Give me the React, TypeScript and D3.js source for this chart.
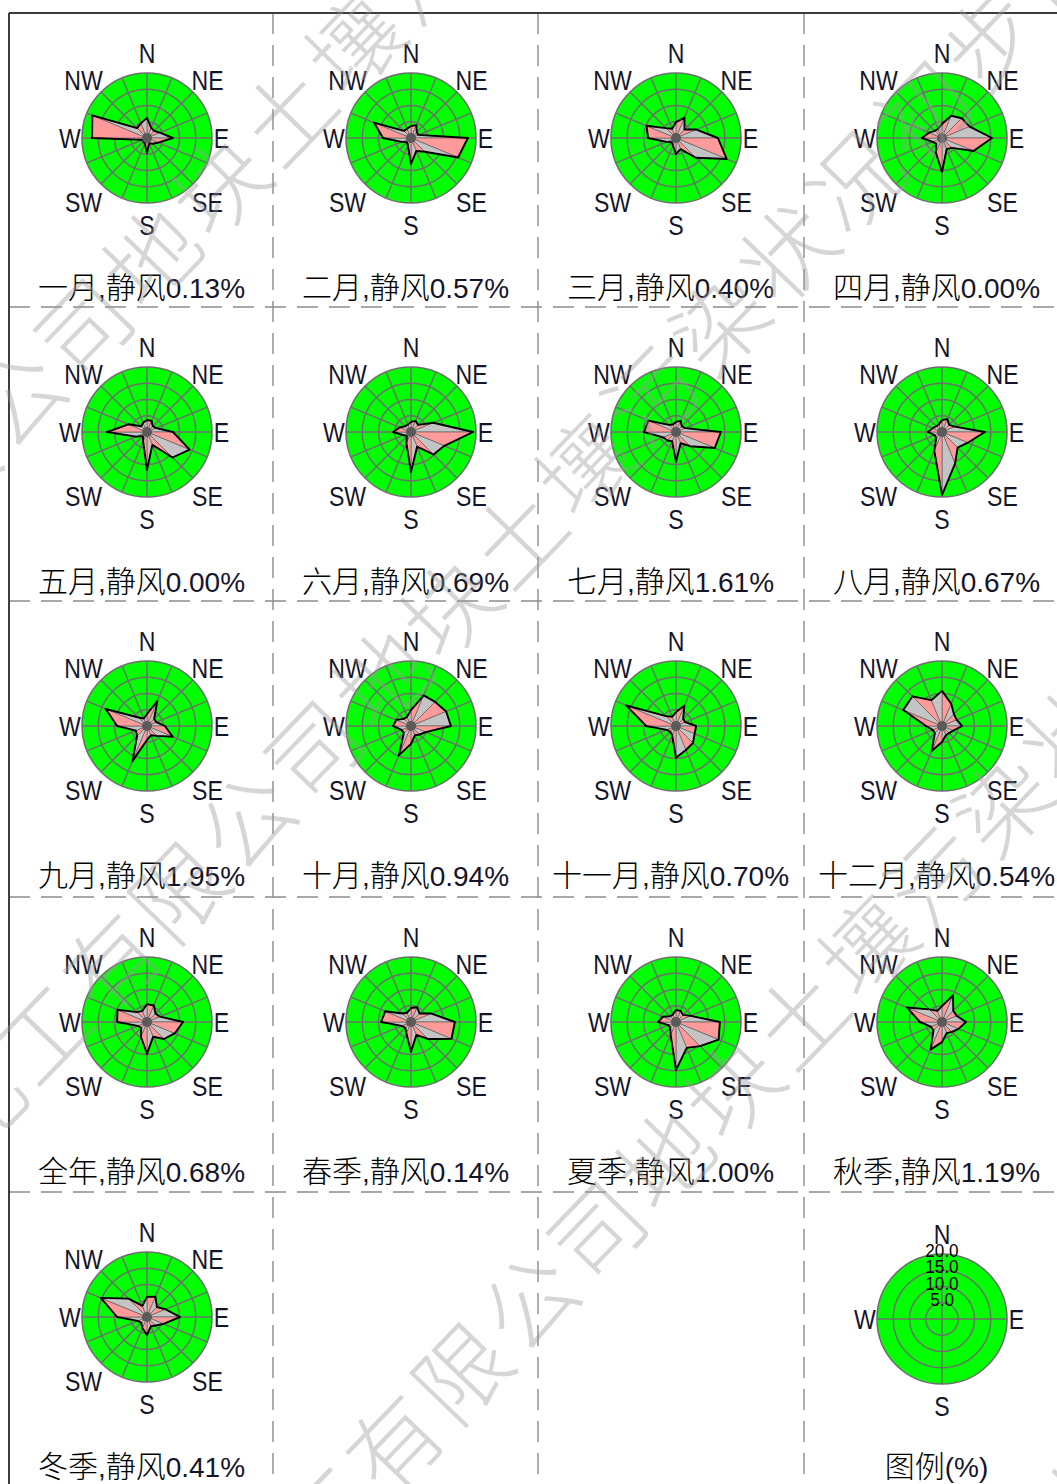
import React from "react";
import * as d3 from "d3";

// ---------- data ----------
const directions = ["N", "NNE", "NE", "ENE", "E", "ESE", "SE", "SSE", "S", "SSW", "SW", "WSW", "W", "WNW", "NW", "NNW"];
const compassLabels = ["N", "NE", "E", "SE", "S", "SW", "W", "NW"];
const legendCompass = ["N", "E", "S", "W"];

const periodNames = ["一月", "二月", "三月", "四月", "五月", "六月", "七月", "八月", "九月", "十月", "十一月", "十二月", "全年", "春季", "夏季", "秋季", "冬季"];
const calmPct = [0.13, 0.57, 0.4, 0.0, 0.0, 0.69, 1.61, 0.67, 1.95, 0.94, 0.7, 0.54, 0.68, 0.14, 1.0, 1.19, 0.41];

// frequencies (%) in order N, NNE, NE, ... NNW
const freqJan = [6.2, 3.4, 3.1, 4.3, 8.0, 3.7, 2.5, 1.8, 4.6, 1.8, 1.5, 1.5, 16.9, 18.2, 4.3, 4.9];
const freqFeb = [3.7, 4.3, 2.5, 2.5, 17.5, 15.7, 6.0, 4.3, 8.0, 2.5, 1.8, 3.1, 8.6, 12.3, 3.1, 3.1];
const freqMar = [4.9, 6.8, 3.7, 6.8, 12.9, 16.9, 8.6, 3.7, 4.9, 2.5, 1.8, 3.1, 8.6, 9.8, 4.3, 3.1];
const freqApr = [4.3, 7.4, 8.6, 9.2, 15.4, 10.5, 4.3, 3.7, 10.5, 4.9, 2.5, 3.1, 6.2, 4.3, 3.1, 3.1];
const freqMay = [3.7, 3.7, 2.5, 3.1, 8.0, 14.2, 11.1, 4.3, 11.7, 3.1, 1.8, 3.7, 12.3, 6.2, 2.5, 3.1];
const freqJun = [3.1, 3.7, 3.1, 7.4, 19.1, 11.1, 9.8, 4.9, 12.3, 3.7, 1.8, 2.5, 5.5, 3.7, 2.5, 2.5];
const freqJul = [3.1, 3.7, 2.5, 3.1, 13.8, 12.9, 6.2, 3.7, 9.2, 3.1, 3.7, 4.3, 9.8, 9.2, 3.1, 2.5];
const freqAug = [3.7, 4.3, 3.1, 4.3, 13.2, 8.6, 6.8, 10.5, 19.4, 6.2, 2.5, 2.5, 4.3, 3.1, 2.5, 2.5];
const freqSep = [3.7, 8.3, 3.1, 3.1, 5.5, 8.6, 4.3, 3.1, 4.3, 11.7, 4.3, 3.7, 9.2, 13.8, 3.7, 2.5];
const freqOct = [4.9, 10.2, 10.5, 11.7, 12.3, 4.9, 3.7, 3.1, 5.5, 9.8, 3.1, 3.1, 5.5, 4.9, 3.1, 3.1];
const freqNov = [4.3, 6.8, 3.1, 3.1, 6.2, 6.2, 7.4, 8.0, 9.8, 3.1, 2.5, 3.1, 9.2, 16.6, 4.3, 3.1];
const freqDec = [10.8, 7.4, 5.2, 4.9, 6.2, 3.7, 3.1, 3.1, 4.9, 8.3, 3.1, 3.1, 4.9, 12.9, 12.9, 8.6];
const freqYear = [5.5, 5.5, 3.7, 4.3, 11.1, 9.2, 7.4, 4.9, 9.8, 4.9, 2.5, 3.1, 9.2, 9.8, 4.3, 3.7];
const freqSpring = [4.3, 4.9, 3.7, 6.8, 13.5, 13.5, 7.4, 4.3, 9.2, 3.7, 2.5, 3.1, 9.2, 8.6, 3.7, 3.1];
const freqSummer = [3.7, 3.7, 3.1, 4.9, 13.5, 14.2, 10.5, 8.6, 14.8, 4.3, 2.5, 2.5, 5.5, 4.3, 2.5, 2.5];
const freqAutumn = [4.9, 8.9, 4.9, 4.9, 7.4, 5.5, 4.3, 3.7, 6.2, 9.2, 3.7, 3.7, 6.8, 11.7, 5.5, 3.7];
const freqWinter = [6.2, 6.8, 4.3, 6.2, 10.2, 5.5, 3.7, 3.1, 5.5, 3.7, 2.5, 3.1, 9.2, 15.4, 8.0, 3.7];

const roseSeries = [freqJan, freqFeb, freqMar, freqApr, freqMay, freqJun, freqJul, freqAug, freqSep, freqOct, freqNov, freqDec, freqYear, freqSpring, freqSummer, freqAutumn, freqWinter];

const ringValues = [5, 10, 15, 20];
const legendTickLabels = ["5.0", "10.0", "15.0", "20.0"];
const legendTitle = "图例";
const legendUnit = "(%)";
const calmWord = "静风";
const watermarkText = "化工有限公司地块土壤污染状况初步调查报告";

// ---------- layout ----------
const W = 1057;
const H = 1484;
const cellLefts = [9, 273, 538, 804];
const cellTops = [13, 307, 601, 897, 1192];
const cellW = 265;
const maxR = 65;

const GREEN = "#00ff00";
const GRID = "#6e6e6e";
const PINK = "#ff9a9a";
const GREY = "#c4c4c4";
const LABEL = "#15152a";
const LATIN = "'Liberation Sans', Arial, sans-serif";
const CJK = "'Noto Sans CJK SC', sans-serif";

const rScale = d3.scaleLinear().domain([0, 20]).range([0, maxR]);
const aScale = d3.scaleLinear().domain([0, directions.length]).range([0, 2 * Math.PI]);

const outlineGen = d3
  .lineRadial<number>()
  .angle((_, i) => aScale(i))
  .radius((d) => rScale(d))
  .curve(d3.curveLinearClosed);

const wedgeGen = d3
  .lineRadial<[number, number]>()
  .angle((d) => d[0])
  .radius((d) => rScale(d[1]))
  .curve(d3.curveLinearClosed);

// label positions relative to rose centre (baseline)
const compassOffsets: Record<string, [number, number]> = {
  N: [0, -75],
  NE: [60.5, -48],
  E: [74.5, 10],
  SE: [60.5, 74],
  S: [0, 97],
  SW: [-63.5, 74],
  W: [-77, 10],
  NW: [-63.5, -48],
};

function CompassLabel({ name }: { name: string }) {
  const [dx, dy] = compassOffsets[name];
  return (
    <text
      transform={`translate(${dx},${dy}) scale(0.84,1)`}
      textAnchor="middle"
      fontFamily={LATIN}
      fontSize={27.5}
      fill={LABEL}
    >
      {name}
    </text>
  );
}

function Grid({ spokes }: { spokes: number }) {
  const ang = d3.scaleLinear().domain([0, spokes]).range([0, 2 * Math.PI]);
  return (
    <g>
      <circle r={rScale(20)} fill={GREEN} stroke={GRID} strokeWidth={1.6} />
      {ringValues.slice(0, -1).map((v) => (
        <circle key={v} r={rScale(v)} fill="none" stroke={GRID} strokeWidth={1.5} />
      ))}
      {d3.range(spokes).map((i) => {
        const a = ang(i);
        return (
          <line
            key={i}
            x1={0}
            y1={0}
            x2={rScale(20) * Math.sin(a)}
            y2={-rScale(20) * Math.cos(a)}
            stroke={GRID}
            strokeWidth={1.5}
          />
        );
      })}
    </g>
  );
}

function Rose({ values, left, top, idx }: { values: number[]; left: number; top: number; idx: number }) {
  const cx = left + 138;
  const cy = top + 125;
  const n = values.length;
  return (
    <g>
      <g transform={`translate(${cx},${cy})`}>
        <Grid spokes={16} />
        {values.map((v, i) => {
          const j = (i + 1) % n;
          const d = wedgeGen([
            [aScale(i), 0],
            [aScale(i), v],
            [aScale(i + 1), values[j]],
          ]);
          return (
            <path
              key={i}
              d={d || ""}
              fill={i % 2 === 0 ? PINK : GREY}
              stroke="#555"
              strokeWidth={0.6}
            />
          );
        })}
        <path d={outlineGen(values) || ""} fill="none" stroke="#000" strokeWidth={1.9} strokeLinejoin="round" />
        <circle r={5} fill="#5a5a5a" />
        {compassLabels.map((c) => (
          <CompassLabel key={c} name={c} />
        ))}
      </g>
      <text x={left + cellW / 2} y={top + 285} textAnchor="middle" fill="#000" fontSize={28}>
        <tspan fontFamily={CJK} fontSize={30} fontWeight={300}>
          {periodNames[idx]}
        </tspan>
        <tspan fontFamily={LATIN} fill={LABEL}>,</tspan>
        <tspan fontFamily={CJK} fontSize={30} fontWeight={300}>
          {calmWord}
        </tspan>
        <tspan fontFamily={LATIN} fill={LABEL}>{calmPct[idx].toFixed(2)}%</tspan>
      </text>
    </g>
  );
}

function Legend({ left, top }: { left: number; top: number }) {
  const cx = left + 138;
  const cy = top + 127;
  return (
    <g>
      <g transform={`translate(${cx},${cy})`}>
        <Grid spokes={4} />
        {legendCompass.map((c) => (
          <CompassLabel key={c} name={c} />
        ))}
        {ringValues.map((v, i) => (
          <text
            key={v}
            transform={`translate(0,${-rScale(v) + 3}) scale(0.9,1)`}
            textAnchor="middle"
            fontFamily={LATIN}
            fontSize={19}
            fill="#000"
          >
            {legendTickLabels[i]}
          </text>
        ))}
      </g>
      <text x={left + cellW / 2} y={top + 285} textAnchor="middle" fontSize={28}>
        <tspan fontFamily={CJK} fontSize={30} fontWeight={300} fill="#000">
          {legendTitle}
        </tspan>
        <tspan fontFamily={LATIN} fill={LABEL}>{legendUnit}</tspan>
      </text>
    </g>
  );
}

// watermark lines: position of character 0 and step between characters
const wmStep: [number, number] = [67.6, -71];
const wmOrigins: [number, number][] = [
  [-258, 679],
  [-28, 1101],
  [255, 1582],
  [538, 2063],
];

function Watermark() {
  const chars = Array.from(watermarkText);
  return (
    <g opacity={0.4} pointerEvents="none">
      {wmOrigins.map(([x0, y0], li) =>
        chars.map((ch, k) => {
          const x = x0 + k * wmStep[0];
          const y = y0 + k * wmStep[1];
          if (x < -80 || x > W + 80 || y < -80 || y > H + 80) return null;
          return (
            <text
              key={`${li}-${k}`}
              transform={`translate(${x},${y}) rotate(-46)`}
              textAnchor="middle"
              dominantBaseline="central"
              fontFamily={CJK}
              fontWeight={300}
              fontSize={92}
              fill="#9a9a9a"
            >
              {ch}
            </text>
          );
        })
      )}
    </g>
  );
}

export default function App() {
  const cells = roseSeries.map((vals, i) => {
    const row = Math.floor(i / 4);
    const col = i % 4;
    return { vals, i, left: cellLefts[col], top: cellTops[row] };
  });
  return (
    <svg
      width={W}
      height={H}
      viewBox={`0 0 ${W} ${H}`}
      style={{ position: "absolute", left: 0, top: 0, display: "block", background: "#fff" }}
    >
      <rect width={W} height={H} fill="#fff" />
      {/* frame */}
      {cellLefts.slice(1).map((x) => (
        <line key={`v${x}`} x1={x} y1={13} x2={x} y2={H} stroke="#8c8c8c" strokeWidth={1.4} strokeDasharray="21,11" />
      ))}
      {cellTops.slice(1).map((y) => (
        <line key={`h${y}`} x1={9} y1={y} x2={W} y2={y} stroke="#8c8c8c" strokeWidth={1.4} strokeDasharray="21,11" />
      ))}
      <line x1={9} y1={13} x2={W} y2={13} stroke="#3c3c3c" strokeWidth={2} />
      <line x1={9} y1={13} x2={9} y2={H} stroke="#3c3c3c" strokeWidth={2} />
      {cells.map((c) => (
        <Rose key={c.i} values={c.vals} left={c.left} top={c.top} idx={c.i} />
      ))}
      <Legend left={cellLefts[3]} top={cellTops[4]} />
      <Watermark />
    </svg>
  );
}
